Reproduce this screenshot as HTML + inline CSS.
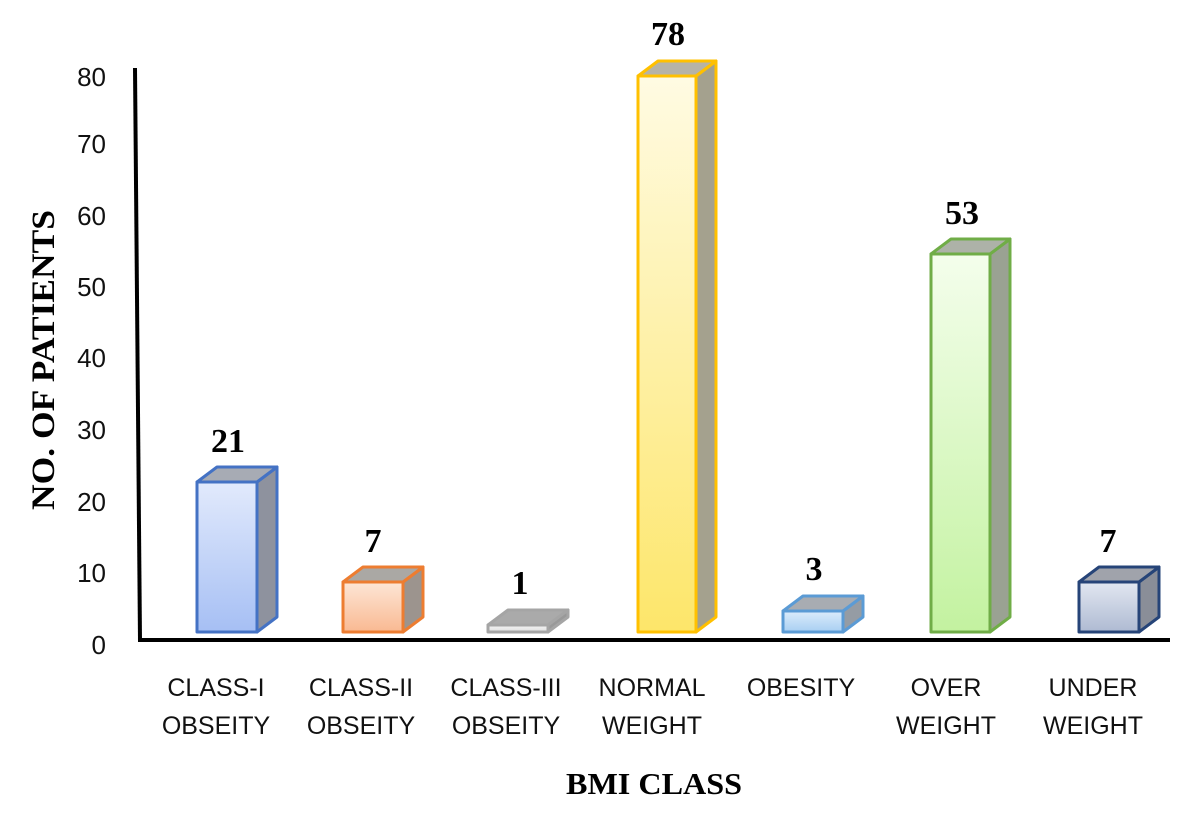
<!DOCTYPE html>
<html><head><meta charset="utf-8"><style>body{margin:0;background:#fff}svg{display:block}</style></head><body>
<svg width="1200" height="827" xmlns="http://www.w3.org/2000/svg">
<defs>
<linearGradient id="g1" x1="0" y1="0" x2="0" y2="1"><stop offset="0" stop-color="#e2eafc"/><stop offset="1" stop-color="#a6bff4"/></linearGradient>
<linearGradient id="g2" x1="0" y1="0" x2="0" y2="1"><stop offset="0" stop-color="#fde6d6"/><stop offset="1" stop-color="#f9b992"/></linearGradient>
<linearGradient id="g3" x1="0" y1="0" x2="0" y2="1"><stop offset="0" stop-color="#f4f4f4"/><stop offset="1" stop-color="#e0e0e0"/></linearGradient>
<linearGradient id="g4" x1="0" y1="0" x2="0" y2="1"><stop offset="0" stop-color="#fffbe3"/><stop offset="1" stop-color="#fde66a"/></linearGradient>
<linearGradient id="g5" x1="0" y1="0" x2="0" y2="1"><stop offset="0" stop-color="#dcecfb"/><stop offset="1" stop-color="#a8cff2"/></linearGradient>
<linearGradient id="g6" x1="0" y1="0" x2="0" y2="1"><stop offset="0" stop-color="#f4feec"/><stop offset="1" stop-color="#c3f2a0"/></linearGradient>
<linearGradient id="g7" x1="0" y1="0" x2="0" y2="1"><stop offset="0" stop-color="#e2e7f1"/><stop offset="1" stop-color="#aebad2"/></linearGradient>
</defs>
<g font-family="Liberation Sans, sans-serif" font-size="26" fill="#111" text-anchor="end">
<text x="106" y="86">80</text><text x="106" y="153">70</text><text x="106" y="225">60</text><text x="106" y="296">50</text><text x="106" y="367">40</text><text x="106" y="439">30</text><text x="106" y="511">20</text><text x="106" y="582">10</text><text x="106" y="654">0</text>
</g>
<text transform="translate(54,360) rotate(-90)" text-anchor="middle" font-family="Liberation Serif, serif" font-weight="bold" font-size="33" textLength="300" lengthAdjust="spacingAndGlyphs">NO. OF PATIENTS</text>
<line x1="135" y1="68" x2="140" y2="641" stroke="#000" stroke-width="4"/>
<line x1="138" y1="640" x2="1170" y2="640" stroke="#000" stroke-width="4"/>
<g stroke-width="3" stroke-linejoin="round">
<g stroke="#4472c4"><polygon points="257,482 277,467 277,617 257,632" fill="#8e929e"/><polygon points="197,482 217,467 277,467 257,482" fill="#a7abb4"/><rect x="197" y="482" width="60" height="150" fill="url(#g1)"/></g>
<g stroke="#ed7d31"><polygon points="403,582 423,567 423,617 403,632" fill="#9c948e"/><polygon points="343,582 363,567 423,567 403,582" fill="#aaa8a4"/><rect x="343" y="582" width="60" height="50" fill="url(#g2)"/></g>
<g stroke="#a5a5a5"><polygon points="548,625 568,610 568,617 548,632" fill="#999"/><polygon points="488,625 508,610 568,610 548,625" fill="#aaa"/><rect x="488" y="625" width="60" height="7" fill="url(#g3)"/></g>
<g stroke="#ffc000"><polygon points="696,76 716,61 716,617 696,632" fill="#a4a18e"/><polygon points="638,76 658,61 716,61 696,76" fill="#b6b3a6"/><rect x="638" y="76" width="58" height="556" fill="url(#g4)"/></g>
<g stroke="#5b9bd5"><polygon points="843,611 863,596 863,617 843,632" fill="#959ca4"/><polygon points="783,611 803,596 863,596 843,611" fill="#a8acb2"/><rect x="783" y="611" width="60" height="21" fill="url(#g5)"/></g>
<g stroke="#70ad47"><polygon points="990,254 1010,239 1010,617 990,632" fill="#9aa293"/><polygon points="931,254 951,239 1010,239 990,254" fill="#adb2a8"/><rect x="931" y="254" width="59" height="378" fill="url(#g6)"/></g>
<g stroke="#264478"><polygon points="1139,582 1159,567 1159,617 1139,632" fill="#8a8e98"/><polygon points="1079,582 1099,567 1159,567 1139,582" fill="#a0a3ab"/><rect x="1079" y="582" width="60" height="50" fill="url(#g7)"/></g>
</g>
<g font-family="Liberation Serif, serif" font-weight="bold" font-size="34" text-anchor="middle" fill="#000">
<text x="228" y="452">21</text><text x="373" y="552">7</text><text x="520" y="594">1</text><text x="668" y="45">78</text><text x="814" y="580">3</text><text x="962" y="224">53</text><text x="1108" y="552">7</text>
</g>
<g font-family="Liberation Sans, sans-serif" font-size="25" text-anchor="middle" fill="#111">
<text x="216" y="696">CLASS-I</text><text x="216" y="734">OBSEITY</text>
<text x="361" y="696">CLASS-II</text><text x="361" y="734">OBSEITY</text>
<text x="506" y="696">CLASS-III</text><text x="506" y="734">OBSEITY</text>
<text x="652" y="696">NORMAL</text><text x="652" y="734">WEIGHT</text>
<text x="801" y="696">OBESITY</text>
<text x="946" y="696">OVER</text><text x="946" y="734">WEIGHT</text>
<text x="1093" y="696">UNDER</text><text x="1093" y="734">WEIGHT</text>
</g>
<text x="654" y="794" text-anchor="middle" font-family="Liberation Serif, serif" font-weight="bold" font-size="31" textLength="176" lengthAdjust="spacingAndGlyphs">BMI CLASS</text>
</svg>
</body></html>
